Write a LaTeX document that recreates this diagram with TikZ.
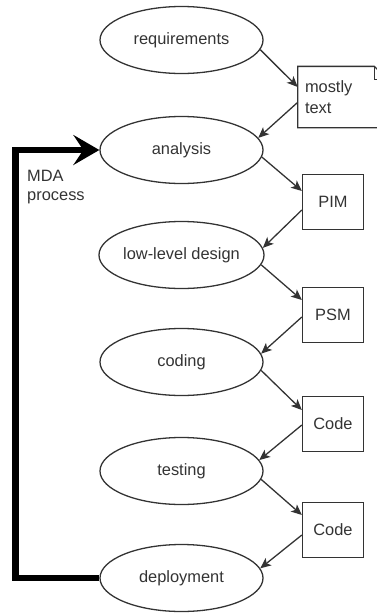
\documentclass[tikz,border=0pt]{standalone}
\usepackage{fontspec}
\setmainfont{Liberation Sans}
\usetikzlibrary{arrows.meta, shapes.geometric, calc, positioning}
\definecolor{inkgray}{HTML}{333333}
\tikzset{
  phase/.style={ellipse, draw=inkgray, line width=1.1pt, minimum width=4.89cm, minimum height=2.01cm, inner sep=0pt, font=\fontsize{14}{17}\selectfont, text=inkgray},
  artefact/.style={rectangle, draw=inkgray, line width=1.1pt, minimum width=1.83cm, minimum height=1.65cm, inner sep=0pt, font=\fontsize{14}{17}\selectfont, text=inkgray},
  flow/.style={-{Stealth[length=0.32cm,width=0.28cm,inset=0.08cm]}, line width=1.1pt, inkgray},
  mdaloop/.style={-{Stealth[length=0.78cm,width=0.9cm,inset=0.3cm]}, line width=5.5pt, black}
}

\begin{document}
\begin{tikzpicture}[x=0.03cm, y=-0.03cm]
  \useasboundingbox (0,0) rectangle (377,613);

  % phases
  \node[phase] (req) at (181.5,40)  {requirements};
  \node[phase] (ana) at (181.5,150) {analysis};
  \node[phase] (lld) at (181.5,255) {low-level design};
  \node[phase] (cod) at (181.5,362) {coding};
  \node[phase] (tst) at (181.5,471) {testing};
  \node[phase] (dep) at (181.5,578) {deployment};

  % artefacts
  \node[artefact, draw=none, minimum width=2.43cm, minimum height=1.8cm, text width=2.25cm, inner xsep=0.2cm, align=left, font=\fontsize{14}{18}\selectfont] (txt) at (342.5,97) {mostly\\text};
  \node[artefact] (pim)   at (333,202) {PIM};
  \node[artefact] (psm)   at (333,315) {PSM};
  \node[artefact] (code1) at (333,424) {Code};
  \node[artefact] (code2) at (333,530) {Code};

  \draw[line width=1.1pt, inkgray] (txt.south west) -- (txt.north west) -- ([xshift=-0.39cm]txt.north east) -- ([yshift=-0.39cm]txt.north east) -- (txt.south east) -- cycle;
  \draw[line width=1.1pt, inkgray] ([xshift=-0.39cm]txt.north east) |- ([yshift=-0.39cm]txt.north east);

  \draw[flow] (req.-7) -- ([yshift=0.3cm]txt.west);
  \draw[flow] ([yshift=-0.16cm]txt.west) -- (ana.9);
  \draw[flow] (ana.-5) -- ([yshift=0.33cm]pim.west);
  \draw[flow] ([yshift=-0.24cm]pim.west) -- (lld.5);
  \draw[flow] (lld.-7) -- ([yshift=0.45cm]psm.west);
  \draw[flow] ([yshift=-0.06cm]psm.west) -- (cod.6);
  \draw[flow] (cod.-6) -- ([yshift=0.42cm]code1.west);
  \draw[flow] ([yshift=-0.03cm]code1.west) -- (tst.8);
  \draw[flow] (tst.-6) -- ([yshift=0.45cm]code2.west);
  \draw[flow] ([yshift=-0.15cm]code2.west) -- (dep.7);

  % MDA loop
  \draw[mdaloop] (dep.west) -- ++(-84,0) |- (ana.west);
  \node[anchor=north west, inner sep=0pt, align=left, font=\fontsize{14}{16}\selectfont, text=inkgray] (mda) at (27,170) {MDA\\process};
\end{tikzpicture}
\end{document}
